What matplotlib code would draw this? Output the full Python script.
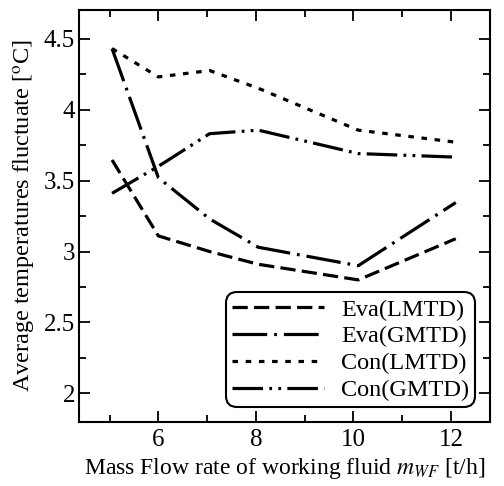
"""Average temperature fluctuation vs. working-fluid mass flow rate."""

import matplotlib

matplotlib.use("Agg")
import matplotlib.pyplot as plt
from matplotlib.ticker import MultipleLocator

plt.rcParams["font.family"] = ["Liberation Serif", "DejaVu Serif"]
plt.rcParams["mathtext.fontset"] = "stix"
plt.rcParams["lines.scale_dashes"] = False

# mass flow rate [t/h]
flow = [5.05, 6.0, 7.05, 8.05, 10.1, 12.1]

eva_lmtd = [3.645, 3.11, 3.00, 2.91, 2.80, 3.09]
eva_gmtd = [4.43, 3.52, 3.23, 3.03, 2.90, 3.345]
con_lmtd = [4.43, 4.23, 4.275, 4.15, 3.855, 3.77]
con_gmtd = [3.41, 3.60, 3.83, 3.855, 3.69, 3.665]

labels = ["Eva(LMTD)", "Eva(GMTD)", "Con(LMTD)", "Con(GMTD)"]
dashes = [
    (0, (11, 4.5)),
    (0, (25, 5, 2, 5)),
    (0, (4, 5.5)),
    (0, (22, 4.5, 2, 4.5, 2, 4.5)),
]

fig = plt.figure(figsize=(5.04, 4.86), dpi=100)
ax = fig.add_axes([0.157, 0.132, 0.815, 0.847])

for ys, lab, ls in zip([eva_lmtd, eva_gmtd, con_lmtd, con_gmtd], labels, dashes):
    ax.plot(flow, ys, color="black", linewidth=2.3, linestyle=ls, label=lab)

ax.set_xlim(4.375, 12.8)
ax.set_ylim(1.80, 4.70)
ax.xaxis.set_major_locator(MultipleLocator(2))
ax.xaxis.set_minor_locator(MultipleLocator(1))
ax.yaxis.set_minor_locator(MultipleLocator(0.25))
ax.set_yticks([2, 2.5, 3, 3.5, 4, 4.5])
ax.set_yticklabels(["2", "2.5", "3", "3.5", "4", "4.5"])
ax.tick_params(which="both", direction="in", top=True, right=True,
               labelsize=18, width=1.3)
ax.tick_params(which="major", length=8)
ax.tick_params(which="minor", length=5)
ax.tick_params(axis="y", which="major", pad=3)
ax.tick_params(axis="x", which="major", pad=5)
for sp in ax.spines.values():
    sp.set_linewidth(1.5)

ax.set_xlabel(r"Mass Flow rate of working fluid $m_{WF}$ [t/h]", fontsize=17)
ax.set_ylabel(r"Average temperatures fluctuate [$^{\rm o}$C]", fontsize=17.5,
              labelpad=4)

leg = ax.legend(loc="lower right", fontsize=17.5, handlelength=3.8,
                handletextpad=0.7, labelspacing=0.2, borderpad=0.25,
                borderaxespad=0.6, fancybox=True, framealpha=1,
                edgecolor="black")
leg.get_frame().set_linewidth(1.5)
leg.get_frame().set_boxstyle("round,pad=0,rounding_size=0.45")

fig.savefig("out.png", dpi=100)
